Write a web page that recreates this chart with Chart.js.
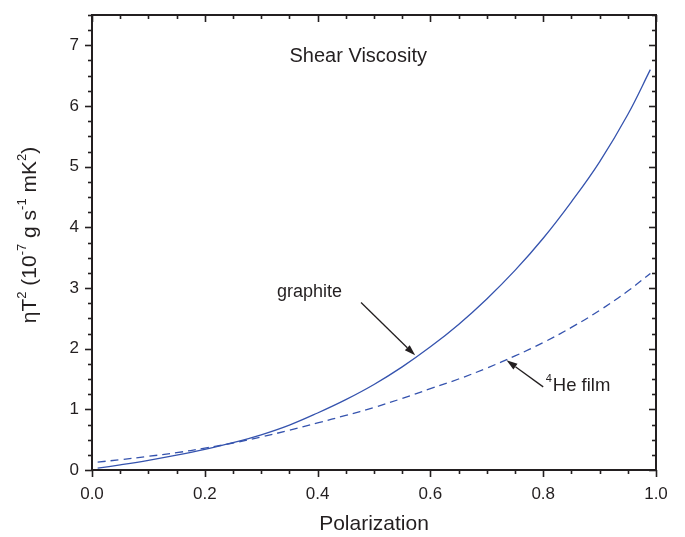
<!DOCTYPE html>
<html>
<head>
<meta charset="utf-8">
<script src="https://cdn.jsdelivr.net/npm/chart.js@4.4.1/dist/chart.umd.min.js"></script>
<style>
html,body{margin:0;padding:0;background:#fff;}
#wrap{width:685px;height:537px;position:relative;}
</style>
</head>
<body>
<div id="wrap"><canvas id="c" width="685" height="537"></canvas></div>
<script>
// ---- data ----
const polarization = [0.01, 0.05, 0.1, 0.15, 0.2, 0.25, 0.3, 0.35, 0.4, 0.45, 0.5, 0.55, 0.6, 0.65, 0.7, 0.75, 0.8, 0.85, 0.9, 0.95, 0.99];
const graphite = [0.03, 0.085, 0.16, 0.245, 0.34, 0.45, 0.58, 0.74, 0.94, 1.16, 1.41, 1.70, 2.03, 2.40, 2.82, 3.29, 3.82, 4.42, 5.08, 5.86, 6.60];
const heFilm = [0.13, 0.17, 0.225, 0.285, 0.36, 0.445, 0.545, 0.655, 0.775, 0.9, 1.03, 1.18, 1.34, 1.5, 1.68, 1.88, 2.1, 2.35, 2.63, 2.95, 3.24];
const xTicks = [0.0, 0.2, 0.4, 0.6, 0.8, 1.0];
const yTicks = [0, 1, 2, 3, 4, 5, 6, 7];
const titleText = "Shear Viscosity";
const xTitle = "Polarization";
const yTitleParts = [["ηT",false],["2",true],[" (10",false],["-7",true],[" g s",false],["-1",true],[" mK",false],["2",true],[")",false]];
// annotations (data coordinates)
const graphiteLabel = {text:"graphite", x:0.328, y:2.93};
const graphiteArrow = {x0:0.477, y0:2.76, x1:0.573, y1:1.89};
const heLabel = {sup:"4", text:"He film", x:0.817, y:1.30};
const heArrow = {x0:0.800, y0:1.37, x1:0.735, y1:1.81};
const titlePos = {x:0.472, y:6.82};

const FONT = "'Liberation Sans', Arial, sans-serif";
const INK = "#231f20";
const BLUE = "#3553ae";

function toPts(xs, ys){ return xs.map((x,i)=>({x:x, y:ys[i]})); }

const decor = {
  id:'decor',
  afterDraw(chart){
    const ctx = chart.ctx, a = chart.chartArea;
    const xs = chart.scales.x, ys = chart.scales.y;
    ctx.save();
    // frame
    ctx.strokeStyle = INK; ctx.lineWidth = 2;
    ctx.strokeRect(a.left, a.top, a.right-a.left, a.bottom-a.top);
    ctx.lineWidth = 1.6;
    // x ticks
    for (let i=0;i<=20;i++){
      const v = i*0.05; const px = Math.round(xs.getPixelForValue(v))+0.5;
      const major = (i%4===0);
      const L = major?7:4;
      ctx.beginPath(); ctx.moveTo(px, a.bottom); ctx.lineTo(px, a.bottom+L); ctx.stroke();
      ctx.beginPath(); ctx.moveTo(px, a.top); ctx.lineTo(px, a.top+L); ctx.stroke();
    }
    // y ticks
    for (let i=0;i<=30;i++){
      const v = i*0.25; const py = Math.round(ys.getPixelForValue(v))+0.5;
      const major = (i%4===0);
      const L = major?7:4;
      ctx.beginPath(); ctx.moveTo(a.left, py); ctx.lineTo(a.left-L, py); ctx.stroke();
      ctx.beginPath(); ctx.moveTo(a.right, py); ctx.lineTo(a.right-L, py); ctx.stroke();
    }
    ctx.fillStyle = INK;
    // title
    ctx.font = "20px " + FONT; ctx.textAlign='center'; ctx.textBaseline='middle';
    ctx.fillText(titleText, xs.getPixelForValue(titlePos.x), ys.getPixelForValue(titlePos.y));
    // x title
    ctx.font = "21px " + FONT;
    ctx.fillText(xTitle, (a.left+a.right)/2, 524);
    // y title rotated
    ctx.save();
    ctx.translate(36, 235);
    ctx.rotate(-Math.PI/2);
    ctx.textBaseline='alphabetic'; ctx.textAlign='left';
    const fs = 21, ss = 13;
    let w = 0;
    yTitleParts.forEach(p=>{ ctx.font = (p[1]?ss:fs)+"px "+FONT; w += ctx.measureText(p[0]).width; });
    let cx = -w/2;
    yTitleParts.forEach(p=>{
      ctx.font = (p[1]?ss:fs)+"px "+FONT;
      ctx.fillText(p[0], cx, p[1]? -10 : 0);
      cx += ctx.measureText(p[0]).width;
    });
    ctx.restore();
    // annotations
    ctx.font = "18px " + FONT; ctx.textAlign='left'; ctx.textBaseline='middle';
    ctx.fillText(graphiteLabel.text, xs.getPixelForValue(graphiteLabel.x), ys.getPixelForValue(graphiteLabel.y));
    ctx.textBaseline='alphabetic';
    const hx = xs.getPixelForValue(heLabel.x), hy = ys.getPixelForValue(heLabel.y);
    ctx.font = "11px " + FONT;
    ctx.fillText(heLabel.sup, hx-7, hy-9);
    ctx.font = "18.5px " + FONT;
    ctx.fillText(heLabel.text, hx, hy);
    function arrow(ar){
      const x0=xs.getPixelForValue(ar.x0), y0=ys.getPixelForValue(ar.y0);
      const x1=xs.getPixelForValue(ar.x1), y1=ys.getPixelForValue(ar.y1);
      const ang = Math.atan2(y1-y0, x1-x0);
      const hl = 11, hw = 3.5;
      const bx = x1 - hl*Math.cos(ang), by = y1 - hl*Math.sin(ang);
      ctx.strokeStyle = INK; ctx.lineWidth = 1.3;
      ctx.beginPath(); ctx.moveTo(x0,y0); ctx.lineTo(bx,by); ctx.stroke();
      ctx.beginPath();
      ctx.moveTo(x1,y1);
      ctx.lineTo(bx + hw*Math.sin(ang), by - hw*Math.cos(ang));
      ctx.lineTo(bx - hw*Math.sin(ang), by + hw*Math.cos(ang));
      ctx.closePath(); ctx.fill();
    }
    arrow(graphiteArrow); arrow(heArrow);
    ctx.restore();
  }
};

new Chart(document.getElementById('c'), {
  type:'line',
  data:{
    datasets:[
      {label:'graphite', data:toPts(polarization, graphite), borderColor:BLUE, borderWidth:1.3, pointRadius:0, tension:0.4, fill:false},
      {label:'4He film', data:toPts(polarization, heFilm), borderColor:BLUE, borderWidth:1.3, borderDash:[8,5], pointRadius:0, tension:0.4, fill:false}
    ]
  },
  options:{
    responsive:false, animation:false, devicePixelRatio:1,
    layout:{padding:{left:0, top:15, right:29, bottom:0}},
    plugins:{legend:{display:false}, tooltip:{enabled:false}, title:{display:false}},
    scales:{
      x:{type:'linear', min:0, max:1,
         grid:{display:false, drawTicks:false}, border:{display:false},
         afterBuildTicks(s){ s.ticks = xTicks.map(v=>({value:v})); },
         afterFit(s){ s.height = 67; s.paddingLeft = 0; s.paddingRight = 0; },
         ticks:{padding:14, color:INK, font:{family:FONT, size:17}, maxRotation:0, callback:(v)=>Number(v).toFixed(1)}},
      y:{type:'linear', min:0, max:7.5,
         grid:{display:false, drawTicks:false}, border:{display:false},
         afterBuildTicks(s){ s.ticks = yTicks.map(v=>({value:v})); },
         afterFit(s){ s.width = 92; s.paddingTop = 0; s.paddingBottom = 0; },
         ticks:{padding:13, color:INK, font:{family:FONT, size:17}, callback:(v)=>String(v)}}
    }
  },
  plugins:[decor]
});
</script>
</body>
</html>
